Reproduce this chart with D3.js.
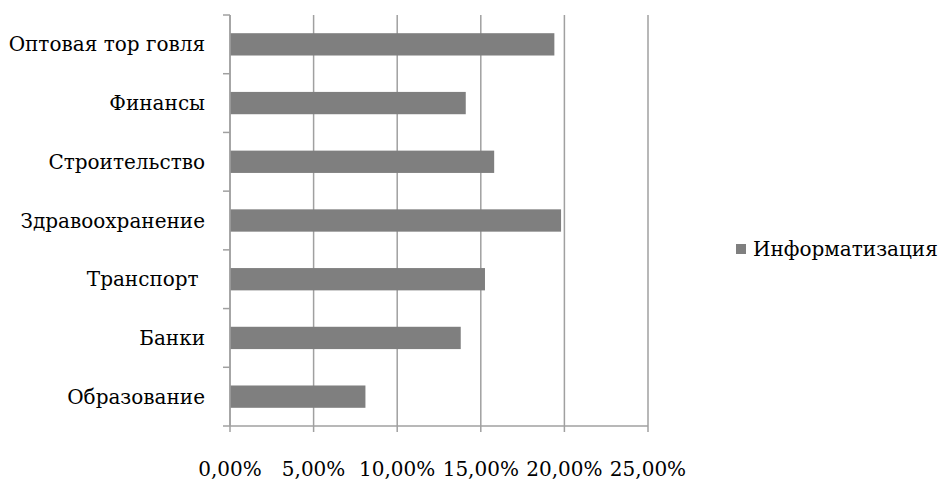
<!DOCTYPE html>
<html>
<head>
<meta charset="utf-8">
<script src="https://cdn.jsdelivr.net/npm/d3@7"></script>
<style>
  body { margin: 0; background: #fff; }
  text { font-family: "DejaVu Serif", serif; fill: #000; white-space: pre; }
</style>
</head>
<body>
<svg width="944" height="481"></svg>
<script>
// Categories (top to bottom) and values, in percent
var categories = ["Оптовая тор говля", "Финансы", "Строительство", "Здравоохранение", "Транспорт ", "Банки", "Образование"];
var values = [19.4, 14.1, 15.8, 19.8, 15.25, 13.8, 8.1];
var seriesName = "Информатизация";
var xTicks = [0, 5, 10, 15, 20, 25];

var svg = d3.select("svg");
var plotLeft = 230, plotRight = 648, plotTop = 15, plotBottom = 426;

// Scales
var x = d3.scaleLinear().domain([0, 25]).range([plotLeft, plotRight]);
var y = d3.scaleBand().domain(categories).range([plotTop, plotBottom]).paddingInner(0.62).paddingOuter(0.31);

// Vertical gridlines
svg.append("g")
  .selectAll("line")
  .data(xTicks)
  .enter()
  .append("line")
  .attr("x1", function(d) { return x(d); })
  .attr("x2", function(d) { return x(d); })
  .attr("y1", plotTop)
  .attr("y2", plotBottom + 6)
  .attr("stroke", "#a0a0a0")
  .attr("stroke-width", 1.5);

// Bars
svg.append("g")
  .selectAll("rect")
  .data(categories)
  .enter()
  .append("rect")
  .attr("x", x(0))
  .attr("y", function(d) { return y(d); })
  .attr("width", function(d, i) { return x(values[i]) - x(0); })
  .attr("height", y.bandwidth())
  .attr("fill", "#7f7f7f");

// Bottom axis line
svg.append("line")
  .attr("x1", plotLeft).attr("x2", plotRight)
  .attr("y1", plotBottom).attr("y2", plotBottom)
  .attr("stroke", "#a0a0a0").attr("stroke-width", 1.5);

// Left axis with outside ticks on band edges
var step = (plotBottom - plotTop) / categories.length;
var yAxis = svg.append("g");
yAxis.append("line")
  .attr("x1", plotLeft).attr("x2", plotLeft)
  .attr("y1", plotTop).attr("y2", plotBottom)
  .attr("stroke", "#a0a0a0").attr("stroke-width", 1.5);
yAxis.selectAll("line.tick")
  .data(d3.range(categories.length + 1))
  .enter()
  .append("line")
  .attr("class", "tick")
  .attr("x1", plotLeft - 7).attr("x2", plotLeft)
  .attr("y1", function(i) { return plotTop + i * step; })
  .attr("y2", function(i) { return plotTop + i * step; })
  .attr("stroke", "#a0a0a0").attr("stroke-width", 1.5);

// Category labels
svg.append("g")
  .selectAll("text")
  .data(categories)
  .enter()
  .append("text")
  .attr("x", 205)
  .attr("y", function(d) { return y(d) + y.bandwidth() / 2 + 7; })
  .attr("text-anchor", "end")
  .attr("font-size", 20)
  .text(function(d) { return d; });

// X tick labels
var fmt = function(d) { return d3.format(".2f")(d).replace(".", ",") + "%"; };
svg.append("g")
  .selectAll("text")
  .data(xTicks)
  .enter()
  .append("text")
  .attr("x", function(d) { return x(d); })
  .attr("y", 476)
  .attr("text-anchor", "middle")
  .attr("font-size", 20)
  .text(fmt);

// Legend
svg.append("rect")
  .attr("x", 736).attr("y", 244)
  .attr("width", 10).attr("height", 10)
  .attr("fill", "#7f7f7f");
svg.append("text")
  .attr("x", 753).attr("y", 256)
  .attr("font-size", 20)
  .text(seriesName);
</script>
</body>
</html>
